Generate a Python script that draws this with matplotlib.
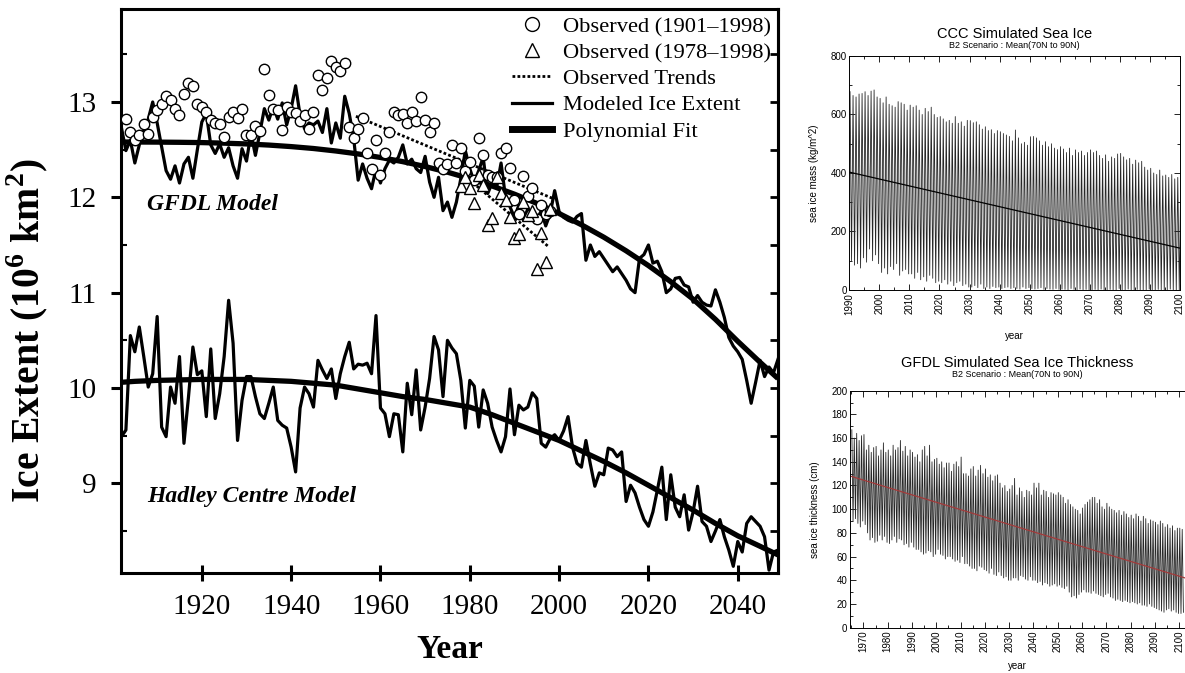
import numpy as np
import matplotlib
matplotlib.use("Agg")
import matplotlib.pyplot as plt
from matplotlib.ticker import MultipleLocator

# ---------------- left panel: Arctic ice extent (10^6 km^2) ----------------
model_years = np.arange(1902, 2050)
gfdl_model = [
    12.73, 12.49, 12.60, 12.36, 12.55, 12.70, 12.82, 13.00, 12.78, 12.53,
    12.28, 12.19, 12.33, 12.15, 12.35, 12.42, 12.20, 12.50, 12.79, 12.88,
    12.55, 12.46, 12.56, 12.42, 12.52, 12.33, 12.20, 12.51, 12.38, 12.67,
    12.44, 12.68, 12.93, 12.81, 12.95, 12.82, 12.99, 12.76, 12.93, 13.17,
    12.86, 12.72, 12.78, 12.76, 12.80, 12.68, 12.93, 12.57, 12.78, 12.62,
    13.06, 12.88, 12.62, 12.18, 12.35, 12.20, 12.09, 12.30, 12.15, 12.30,
    12.39, 12.36, 12.42, 12.55, 12.35, 12.40, 12.30, 12.26, 12.43, 12.16,
    12.00, 12.21, 11.86, 11.95, 11.79, 11.95, 12.20, 12.49, 12.30, 12.16,
    12.28, 12.42, 12.04, 12.15, 12.10, 12.36, 12.00, 11.90, 11.79, 11.92,
    11.76, 11.88, 11.82, 11.76, 11.86, 11.70, 11.83, 12.07, 11.85, 11.79,
    11.76, 11.74, 11.80, 11.83, 11.34, 11.50, 11.38, 11.43, 11.36, 11.29,
    11.22, 11.27, 11.20, 11.13, 11.04, 11.00, 11.36, 11.40, 11.50, 11.31,
    11.33, 11.22, 11.00, 11.04, 11.15, 11.16, 11.08, 11.06, 10.90, 10.97,
    10.90, 10.87, 10.86, 11.03, 10.90, 10.74, 10.53, 10.44, 10.38, 10.30,
    10.08, 9.84, 10.06, 10.29, 10.12, 10.22, 10.16, 10.30]
hadley_model = [
    9.49, 9.56, 10.55, 10.38, 10.64, 10.33, 10.01, 10.15, 10.75, 9.59,
    9.49, 10.01, 9.84, 10.33, 9.42, 9.90, 10.43, 10.14, 10.18, 9.70,
    10.41, 9.68, 9.94, 10.33, 10.92, 10.47, 9.45, 9.87, 10.12, 10.12,
    9.91, 9.73, 9.68, 9.84, 10.01, 9.66, 9.61, 9.58, 9.38, 9.12,
    9.79, 10.01, 9.94, 9.80, 10.29, 10.19, 10.10, 10.20, 9.89, 10.15,
    10.33, 10.48, 10.20, 10.25, 10.24, 10.26, 10.15, 10.76, 9.79, 9.73,
    9.49, 9.73, 9.72, 9.33, 10.05, 9.72, 10.19, 9.56, 9.80, 10.10,
    10.54, 10.40, 9.91, 10.50, 10.42, 10.36, 10.08, 9.58, 10.08, 10.02,
    9.59, 9.98, 9.84, 9.59, 9.45, 9.33, 9.49, 9.99, 9.51, 9.82,
    9.77, 9.80, 9.95, 9.89, 9.42, 9.38, 9.47, 9.51, 9.45, 9.55,
    9.70, 9.38, 9.21, 9.17, 9.45, 9.20, 8.97, 9.11, 9.09, 9.37,
    9.35, 9.28, 9.33, 8.81, 8.98, 8.90, 8.75, 8.62, 8.55, 8.70,
    8.93, 9.17, 8.62, 9.09, 8.75, 8.65, 8.88, 8.51, 8.70, 8.97,
    8.60, 8.55, 8.39, 8.50, 8.62, 8.44, 8.30, 8.13, 8.39, 8.28,
    8.58, 8.65, 8.60, 8.55, 8.44, 8.09, 8.28, 8.30]

fit_years = [1902, 1905, 1910, 1915, 1920, 1925, 1930, 1935, 1940, 1945, 1950,
             1955, 1960, 1965, 1970, 1975, 1980, 1985, 1990, 1995, 2000, 2005,
             2010, 2015, 2020, 2025, 2030, 2035, 2040, 2045, 2049]
gfdl_fit = [12.58, 12.58, 12.579, 12.577, 12.574, 12.568, 12.56, 12.548, 12.532,
            12.512, 12.486, 12.455, 12.418, 12.374, 12.323, 12.264, 12.196,
            12.119, 12.033, 11.937, 11.83, 11.712, 11.582, 11.439, 11.284,
            11.115, 10.932, 10.72, 10.49, 10.27, 10.10]
hadley_fit = [10.06, 10.07, 10.08, 10.085, 10.09, 10.09, 10.09, 10.08, 10.07,
              10.05, 10.03, 9.99, 9.95, 9.91, 9.88, 9.84, 9.80, 9.72, 9.63,
              9.54, 9.45, 9.34, 9.23, 9.11, 8.98, 8.85, 8.72, 8.58, 8.45,
              8.34, 8.25]

obs_years = np.arange(1903, 1999)
obs_long = [
    12.82, 12.69, 12.60, 12.65, 12.77, 12.66, 12.84, 12.92, 12.98, 13.06,
    13.02, 12.93, 12.86, 13.08, 13.20, 13.17, 12.98, 12.95, 12.90, 12.81,
    12.78, 12.77, 12.63, 12.84, 12.90, 12.83, 12.93, 12.65, 12.65, 12.75,
    12.70, 13.35, 13.07, 12.93, 12.92, 12.71, 12.95, 12.90, 12.88, 12.80,
    12.86, 12.72, 12.90, 13.28, 13.13, 13.25, 13.43, 13.37, 13.33, 13.41,
    12.74, 12.62, 12.72, 12.83, 12.47, 12.30, 12.60, 12.23, 12.46, 12.69,
    12.89, 12.86, 12.87, 12.78, 12.89, 12.80, 13.05, 12.81, 12.69, 12.78,
    12.36, 12.30, 12.35, 12.55, 12.36, 12.52, 12.28, 12.37, 12.18, 12.62,
    12.44, 12.23, 12.21, 12.21, 12.46, 12.52, 12.31, 11.97, 11.82, 12.22,
    12.01, 12.10, 11.77, 11.92, 11.83, 11.86]
sat_years = np.arange(1978, 1999)
obs_sat = [12.12, 12.21, 12.10, 11.94, 12.23, 12.13, 11.71, 11.78, 12.21, 12.05,
           11.97, 11.79, 11.57, 11.62, 11.95, 11.81, 11.86, 11.25, 11.63, 11.32,
           11.88]
trend_long_years = [1954.5, 1998.5]
trend_long = [12.85, 11.99]
trend_sat_years = [1979, 1997.7]
trend_sat = [12.22, 11.48]

# ---------------- right panels: monthly cycle as annual max / min ----------------
ccc_years = np.arange(1990, 2101)
ccc_peak = [
    678, 665, 660, 670, 672, 678, 665, 680, 684, 660,
    655, 640, 660, 635, 630, 625, 644, 640, 635, 615,
    632, 625, 630, 615, 600, 621, 610, 625, 600, 590,
    593, 585, 575, 580, 570, 593, 570, 575, 560, 580,
    579, 572, 575, 565, 550, 558, 545, 548, 535, 545,
    541, 535, 530, 525, 510, 547, 520, 500, 505, 495,
    524, 525, 520, 510, 495, 507, 490, 500, 485, 480,
    490, 482, 470, 485, 460, 479, 470, 475, 460, 470,
    479, 470, 475, 460, 450, 462, 440, 455, 450, 465,
    467, 455, 445, 450, 430, 444, 435, 440, 420, 410,
    416, 400, 395, 410, 390, 393, 385, 395, 380, 385,
    387]
ccc_trough = [
    100, 85, 90, 75, 110, 95, 140, 100, 120, 90,
    60, 75, 55, 80, 70, 90, 50, 65, 70, 55,
    55, 40, 60, 35, 45, 30, 50, 40, 25, 30,
    25, 35, 20, 30, 15, 25, 30, 15, 20, 10,
    10, 15, 8, 20, 5, 10, 5, 12, 8, 10,
    5, 8, 10, 5, 8, 5, 3, 10, 5, 8,
    5, 3, 5, 8, 2, 5, 3, 2, 5, 2,
    3, 2, 0, 5, 2, 0, 3, 0, 2, 0,
    0, 2, 0, 3, 0, 0, 2, 0, 0, 5,
    0, 0, 3, 0, 0, 2, 0, 0, 0, 3,
    0, 0, 2, 0, 0, 0, 3, 0, 0, 0,
    0]
ccc_trend_years = [1990, 2100]
ccc_trend = [403, 143]

gfdl_years = np.arange(1965, 2102)
gfdl_peak = [
    167, 160, 164, 158, 162,
    163, 150, 154, 148, 152, 153, 145, 150, 156, 148,
    150, 145, 154, 150, 152, 158, 149, 153, 145, 150,
    148, 144, 146, 140, 150, 153, 145, 154, 140, 142,
    143, 138, 140, 135, 139, 139, 132, 138, 140, 136,
    144, 130, 130, 128, 134, 136, 128, 133, 137, 130,
    134, 127, 129, 124, 128, 129, 122, 118, 120, 115,
    117, 120, 126, 112, 118, 115, 110, 116, 115, 112,
    122, 118, 122, 112, 116, 115, 110, 114, 113, 112,
    114, 112, 110, 105, 108, 104, 102, 100, 99, 96,
    101, 104, 106, 108, 110, 110, 105, 108, 102, 100,
    105, 102, 100, 99, 97, 99, 95, 98, 96, 93,
    95, 92, 96, 94, 90, 94, 92, 88, 91, 90,
    89, 87, 90, 88, 85, 87, 84, 86, 82, 84,
    84, 83]
gfdl_trough = [
    90, 92, 88, 85, 90,
    87, 80, 74, 76, 72, 73, 78, 74, 77, 72,
    71, 74, 77, 72, 75, 74, 70, 71, 68, 72,
    68, 66, 66, 64, 62, 63, 65, 64, 60, 62,
    66, 62, 61, 58, 60, 60, 58, 56, 57, 55,
    60, 54, 54, 52, 50, 50, 48, 52, 51, 49,
    48, 46, 50, 45, 44, 47, 44, 42, 43, 40,
    40, 42, 42, 40, 44, 43, 41, 40, 43, 40,
    40, 38, 39, 36, 38, 37, 35, 36, 37, 35,
    36, 34, 33, 35, 30, 26, 27, 25, 28, 30,
    32, 30, 30, 29, 31, 29, 28, 27, 26, 28,
    29, 26, 25, 23, 24, 23, 22, 23, 22, 21,
    22, 21, 20, 21, 19, 19, 18, 20, 18, 17,
    16, 15, 14, 13, 15, 16, 14, 15, 13, 12,
    12, 13]
gfdl_trend_years = [1964.5, 2102.4]
gfdl_trend = [128, 42]

SERIF = "Liberation Serif"
SANS = "Liberation Sans"
plt.rcParams.update({"font.family": SERIF, "mathtext.fontset": "custom",
                     "mathtext.rm": SERIF, "mathtext.bf": SERIF + ":bold"})

fig = plt.figure(figsize=(11.85, 6.73), dpi=100)

# ---- left: GFDL / Hadley ice extent ----
ax = fig.add_axes([0.1021, 0.1486, 0.5544, 0.8373])
ax.plot(model_years, gfdl_model, color="k", lw=2.3, zorder=3)
ax.plot(model_years, hadley_model, color="k", lw=2.3, zorder=3)
ax.plot(fit_years, gfdl_fit, color="k", lw=3.8, solid_capstyle="butt", zorder=4)
ax.plot(fit_years, hadley_fit, color="k", lw=3.8, solid_capstyle="butt", zorder=4)
ax.plot(trend_long_years, trend_long, color="k", lw=2, ls=(0, (1, 0.8)), zorder=5)
ax.plot(trend_sat_years, trend_sat, color="k", lw=2, ls=(0, (1, 0.8)), zorder=5)
ax.plot(obs_years, obs_long, ls="none", marker="o", ms=7.5, mfc="white",
        mec="k", mew=1.0, zorder=6)
ax.plot(sat_years, obs_sat, ls="none", marker="^", ms=8, mfc="white",
        mec="k", mew=1.0, zorder=6)

# legend handles (no data)
h_circ, = ax.plot([], [], ls="none", marker="o", ms=10, mfc="white", mec="k", mew=1.0)
h_tri, = ax.plot([], [], ls="none", marker="^", ms=10, mfc="white", mec="k", mew=1.0)
h_dot, = ax.plot([], [], color="k", lw=2, ls=(0, (1, 0.8)))
h_mod, = ax.plot([], [], color="k", lw=2.3)
h_fit, = ax.plot([], [], color="k", lw=5)
ax.legend([h_circ, h_tri, h_dot, h_mod, h_fit],
          ["Observed (1901\u20131998)", "Observed (1978\u20131998)", "Observed Trends",
           "Modeled Ice Extent", "Polynomial Fit"],
          loc="upper right", bbox_to_anchor=(1.003, 1.004), frameon=False,
          prop={"family": SERIF, "size": 16.2}, labelspacing=0.24,
          handlelength=1.75, handletextpad=0.5, borderaxespad=0.0)

ax.text(1907.7, 11.92, "GFDL Model", fontsize=17, fontweight="bold",
        fontstyle="italic", va="center", ha="left")
ax.text(1907.7, 8.86, "Hadley Centre Model", fontsize=17, fontweight="bold",
        fontstyle="italic", va="center", ha="left")

ax.set_xlim(1901.9, 2049)
ax.set_ylim(8.06, 13.97)
ax.xaxis.set_major_locator(MultipleLocator(20))
ax.yaxis.set_major_locator(MultipleLocator(1))
ax.yaxis.set_minor_locator(MultipleLocator(0.5))
ax.tick_params(axis="x", which="major", direction="inout", length=12, width=2.2,
               labelsize=21, pad=9)
ax.tick_params(axis="y", which="major", direction="out", length=7.5, width=2.2,
               labelsize=21, pad=10)
ax.tick_params(axis="y", which="minor", direction="in", length=4, width=1.5)
for s in ax.spines.values():
    s.set_linewidth(2.2)
rax = ax.secondary_yaxis("right")
rax.yaxis.set_major_locator(MultipleLocator(0.5))
rax.tick_params(direction="in", length=6, width=2, labelright=False)
rax.spines["right"].set_linewidth(2.2)
ax.set_xlabel("Year", fontsize=24, fontweight="bold", labelpad=10)
ax.set_ylabel("Ice Extent (10$^{\\mathbf{6}}$ km$^{\\mathbf{2}}$)", fontsize=28.5,
              fontweight="bold")
ax.yaxis.set_label_coords(-0.108, 0.43)


def small_panel(ax, xlabel, ylabel, title, subtitle, xpad, tpad, sub_y):
    ax.tick_params(which="both", direction="in", top=True, right=True,
                   labelsize=7, pad=2, width=0.6)
    ax.tick_params(which="major", length=4)
    ax.tick_params(which="minor", length=2.5)
    for lab in ax.get_xticklabels() + ax.get_yticklabels():
        lab.set_family(SANS)
    for lab in ax.get_xticklabels():
        lab.set_rotation(90)
    for s in ax.spines.values():
        s.set_linewidth(0.7)
    ax.set_xlabel(xlabel, fontsize=7, family=SANS, labelpad=xpad)
    ax.set_ylabel(ylabel, fontsize=7, family=SANS, labelpad=8)
    ax.set_title(title, fontsize=10.5, family=SANS, pad=tpad)
    ax.text(0.5, sub_y, subtitle, transform=ax.transAxes, ha="center",
            va="bottom", fontsize=6.5, family=SANS)


# ---- right top: CCC sea ice mass ----
ax1 = fig.add_axes([0.7167, 0.5691, 0.2791, 0.3477])
t1 = np.column_stack([ccc_years + 0.25, ccc_years + 0.75]).ravel()
v1 = np.column_stack([ccc_peak, ccc_trough]).ravel()
ax1.plot(t1, v1, color="0.15", lw=0.6)
ax1.plot(ccc_trend_years, ccc_trend, color="k", lw=0.9)
ax1.set_xlim(1990, 2100)
ax1.set_ylim(0, 800)
ax1.xaxis.set_major_locator(MultipleLocator(10))
ax1.xaxis.set_minor_locator(MultipleLocator(5))
ax1.yaxis.set_major_locator(MultipleLocator(200))
ax1.yaxis.set_minor_locator(MultipleLocator(100))
small_panel(ax1, "year", "sea ice mass (kg/m^2)", "CCC Simulated Sea Ice",
            "B2 Scenario : Mean(70N to 90N)", 12, 13, 1.025)

# ---- right bottom: GFDL sea ice thickness ----
ax2 = fig.add_axes([0.7173, 0.0673, 0.2827, 0.3522])
t2 = np.column_stack([gfdl_years + 0.25, gfdl_years + 0.75]).ravel()
v2 = np.column_stack([gfdl_peak, gfdl_trough]).ravel()
ax2.plot(t2, v2, color="0.15", lw=0.6)
ax2.plot(gfdl_trend_years, gfdl_trend, color="#a33a3a", lw=0.9)
ax2.set_xlim(1964.5, 2102.4)
ax2.set_ylim(0, 200)
ax2.xaxis.set_major_locator(MultipleLocator(10))
ax2.xaxis.set_minor_locator(MultipleLocator(5))
ax2.yaxis.set_major_locator(MultipleLocator(20))
ax2.yaxis.set_minor_locator(MultipleLocator(10))
ax2.spines["right"].set_visible(False)
small_panel(ax2, "year", "sea ice thickness (cm)", "GFDL Simulated Sea Ice Thickness",
            "B2 Scenario : Mean(70N to 90N)", 6, 17, 1.05)
ax2.tick_params(which="both", right=False)

fig.savefig("out.png", dpi=100)
